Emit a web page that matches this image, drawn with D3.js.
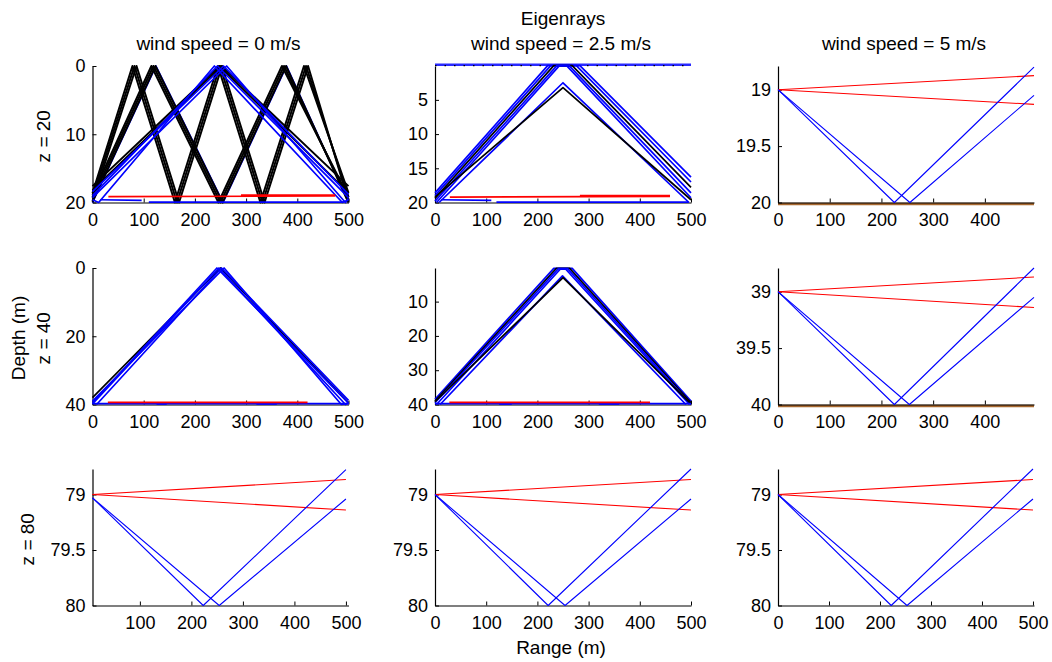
<!DOCTYPE html>
<html><head><meta charset="utf-8">
<script src="https://cdn.jsdelivr.net/npm/d3@7"></script>
<style>
body{margin:0;background:#fff}
svg{display:block}
text{font-family:"Liberation Sans",Arial,Helvetica,sans-serif;fill:#000}
.tick text{font-size:18px}
.lab{font-size:19px}
</style>
</head><body><svg id="c" width="1052" height="662"></svg>
<script>
// ---------------- data ----------------
const superTitle = "Eigenrays";
const colTitles = ["wind speed = 0 m/s", "wind speed = 2.5 m/s", "wind speed = 5 m/s"];
const rowLabels = ["z = 20", "z = 40", "z = 80"];
const yAxisLabel = "Depth (m)";
const xAxisLabel = "Range (m)";

// panel order: row-major (z = 20, 40, 80) x (wind 0, 2.5, 5)
const xDomains = [[0,500],[0,500],[0,495],[0,500],[0,500],[0,495],[8,505],[0,500],[0,502]];
const yDomains = [[0,20],[0.05,20],[18.79,20],[0,40],[0.2,40],[38.79,40],[78.77,80],[78.77,80],[78.77,80]];
const xTickValues = [
  [0,100,200,300,400,500],[0,100,200,300,400,500],[0,100,200,300,400],
  [0,100,200,300,400,500],[0,100,200,300,400,500],[0,100,200,300,400],
  [100,200,300,400,500],[0,100,200,300,400,500],[0,100,200,300,400,500]
];
const yTickValues = [[0,10,20],[5,10,15,20],[19,19.5,20],[0,20,40],[10,20,30,40],[39,39.5,40],[79,79.5,80],[79,79.5,80],[79,79.5,80]];

// eigenrays: [range (m), depth (m)] vertices; type: both = surface+bottom, bottom, direct
const rays_z20_w0 = [
  {type:"bottom", pts:[[0,20],[124,0],[255,20],[379,0],[500,20]]},
  {type:"both", pts:[[0,18.6],[78,0],[161,20],[245,0],[328,20],[413,0],[500,18.6]]},
  {type:"both", pts:[[0,19.2],[82,0],[165,20],[249,0],[332,20],[417,0],[500,19.2]]},
  {type:"both", pts:[[0,19.8],[86,0],[169,20],[253,0],[336,20],[421,0],[500,19.8]]},
  {type:"both", pts:[[0,18.9],[115,0],[246,20],[370,0],[500,19.2]]},
  {type:"both", pts:[[0,19.4],[119,0],[250,20],[374,0],[500,19.6]]},
  {type:"both", pts:[[0,19.9],[123,0],[254,20],[378,0],[500,20]]},
  {type:"both", pts:[[0,17.6],[248,0],[500,18.6]]},
  {type:"both", pts:[[0,18.2],[252,0],[500,17.6]]},
  {type:"bottom", pts:[[0,19.6],[12,20],[238,0],[488,20],[500,19.6]]},
  {type:"bottom", pts:[[0,19.0],[244,0],[500,19.3]]},
  {type:"bottom", pts:[[0,18.4],[256,0],[500,18.8]]},
  {type:"bottom", pts:[[0,19.3],[262,0],[494,20],[500,19.4]]},
  {type:"bottom", pts:[[15,19.6],[96,19.7]]},
  {type:"bottom", pts:[[110,19.95],[490,19.95]]},
  {type:"direct", pts:[[31,19.15],[474,19.05]]},
  {type:"direct", pts:[[290,18.92],[474,18.92]]}
];
const rays_z20_w2p5 = [
  {type:"bottom", pts:[[0,18.6],[220,0],[283,0],[500,16.3]]},
  {type:"bottom", pts:[[0,19.0],[226,0],[276,0],[500,17.0]]},
  {type:"both",   pts:[[0,19.4],[232,0],[268,0],[500,17.8]]},
  {type:"bottom", pts:[[0,19.8],[238,0],[262,0],[500,18.6]]},
  {type:"bottom", pts:[[3,20],[243,0],[257,0],[500,19.3]]},
  {type:"bottom", pts:[[8,20],[250,2.5],[496,20]]},
  {type:"both",   pts:[[0,19.2],[250,3.2],[500,19.6]]},
  {type:"bottom", pts:[[12,19.6],[110,19.7]]},
  {type:"bottom", pts:[[120,19.95],[495,19.95]]},
  {type:"direct", pts:[[29,19.2],[459,19.1]]},
  {type:"direct", pts:[[283,19.0],[459,19.0]]}
];
const surfaceTrack_z20_w2p5 = [[0,0],[500,0]];
const rays_z20_w5 = [
  {type:"direct", pts:[[0,19],[495,18.875]]},
  {type:"direct", pts:[[0,19],[495,19.13]]},
  {type:"bottom", pts:[[0,19],[225,20],[495,18.80]]},
  {type:"bottom", pts:[[0,19],[255,20],[495,19.05]]}
];
const rays_z40_w0 = [
  {type:"both",   pts:[[0,38],[250,0],[500,39.5]]},
  {type:"bottom", pts:[[0,39.5],[243,0],[500,39.6]]},
  {type:"bottom", pts:[[0,39.8],[247,0],[494,40],[500,39.4]]},
  {type:"bottom", pts:[[8,40],[252,0],[500,38.8]]},
  {type:"bottom", pts:[[0,39],[257,0],[486,40],[500,39.7]]},
  {type:"bottom", pts:[[0,39.75],[500,39.75]]},
  {type:"bottom", pts:[[125,39.85],[145,39.85]]},
  {type:"bottom", pts:[[320,39.85],[360,39.85]]},
  {type:"direct", pts:[[30,39.4],[420,39.4]]}
];
const rays_z40_w2p5 = [
  {type:"bottom", pts:[[0,38.5],[232,0.3],[268,0.3],[500,39]]},
  {type:"both",   pts:[[0,39],[237,0.3],[263,0.3],[500,39.5]]},
  {type:"bottom", pts:[[0,39.5],[241,0.4],[259,0.4],[500,40]]},
  {type:"bottom", pts:[[3,40],[245,0.5],[255,0.5],[497,40]]},
  {type:"bottom", pts:[[10,40],[249,2.5],[490,40]]},
  {type:"both",   pts:[[0,39.2],[250,3],[500,39.8]]},
  {type:"bottom", pts:[[0,39.75],[500,39.75]]},
  {type:"bottom", pts:[[125,39.85],[150,39.85]]},
  {type:"bottom", pts:[[320,39.85],[360,39.85]]},
  {type:"direct", pts:[[28,39.4],[420,39.4]]}
];
const rays_z40_w5 = [
  {type:"direct", pts:[[0,39],[495,38.87]]},
  {type:"direct", pts:[[0,39],[495,39.14]]},
  {type:"bottom", pts:[[0,39],[225,40],[495,38.79]]},
  {type:"bottom", pts:[[0,39],[254,40],[495,39.05]]}
];
const rays_z80_w0 = [
  {type:"direct", pts:[[8,79.0],[500,78.865]]},
  {type:"direct", pts:[[8,79.0],[500,79.14]]},
  {type:"bottom", pts:[[8,79.03],[223,80],[500,78.775]]},
  {type:"bottom", pts:[[8,79.03],[254,80],[500,79.04]]}
];
const rays_z80_w2p5 = [
  {type:"direct", pts:[[0,79.0],[500,78.865]]},
  {type:"direct", pts:[[0,79.0],[500,79.14]]},
  {type:"bottom", pts:[[0,79.0],[221,80],[500,78.77]]},
  {type:"bottom", pts:[[0,79.0],[254,80],[500,79.04]]}
];
const rays_z80_w5 = [
  {type:"direct", pts:[[0,79.0],[500,78.865]]},
  {type:"direct", pts:[[0,79.0],[500,79.14]]},
  {type:"bottom", pts:[[0,79.0],[222,80],[500,78.77]]},
  {type:"bottom", pts:[[0,79.0],[253,80],[500,79.04]]}
];
const bottomDepths = [null,null,20,null,null,40,null,null,null];

const panelRays = [rays_z20_w0, rays_z20_w2p5, rays_z20_w5,
                   rays_z40_w0, rays_z40_w2p5, rays_z40_w5,
                   rays_z80_w0, rays_z80_w2p5, rays_z80_w5];
const panelSurface = [null, surfaceTrack_z20_w2p5, null, null, null, null, null, null, null];

// ---------------- drawing ----------------
const typeColor = {both:"#000000", bottom:"#0000ff", direct:"#ff0000"};
const svg = d3.select("#c");
const colLeft = [92.5, 435, 778], plotW = 256;
const rowTop = [66, 268, 469], plotH = 136.5;

panelRays.forEach((rays, i) => {
  const r = Math.floor(i / 3), c = i % 3;
  const x = d3.scaleLinear().domain(xDomains[i]).range([colLeft[c], colLeft[c] + plotW]);
  const y = d3.scaleLinear().domain(yDomains[i]).range([rowTop[r], rowTop[r] + plotH]);
  const g = svg.append("g");
  const dense = (c < 2 && r < 2);

  if (bottomDepths[i] !== null) {
    g.append("line")
      .attr("x1", x(xDomains[i][0])).attr("x2", x(xDomains[i][1]))
      .attr("y1", y(bottomDepths[i]) + 1.5).attr("y2", y(bottomDepths[i]) + 1.5)
      .attr("stroke", "#a8692f").attr("stroke-width", 2.5);
  }

  const xa = g.append("g").attr("transform", `translate(0,${rowTop[r] + plotH})`)
    .call(d3.axisBottom(x).tickValues(xTickValues[i]).tickSize(-4).tickSizeOuter(0).tickPadding(11).tickFormat(d => String(d)));
  const ya = g.append("g").attr("transform", `translate(${colLeft[c]},0)`)
    .call(d3.axisLeft(y).tickValues(yTickValues[i]).tickSize(-4).tickSizeOuter(0).tickPadding(7).tickFormat(d => String(d)));
  [xa, ya].forEach(a => {
    a.attr("font-size", null).attr("font-family", null);
    a.select(".domain").attr("stroke", "#000").attr("stroke-width", 1.2);
    a.selectAll(".tick line").attr("stroke", "#000");
  });

  const line = d3.line().x(d => x(d[0])).y(d => y(d[1]));
  if (panelSurface[i]) {
    g.append("path").attr("d", line(panelSurface[i])).attr("fill", "none")
      .attr("stroke", "#2a2aff").attr("stroke-width", 2.5).attr("transform", "translate(0,-1)");
    g.append("path").attr("d", line(panelSurface[i])).attr("fill", "none")
      .attr("stroke", "#000").attr("stroke-width", 1.2).attr("stroke-dasharray", "1.5,8");
  }
  rays.forEach(ray => {
    g.append("path").attr("d", line(ray.pts)).attr("fill", "none")
      .attr("stroke", typeColor[ray.type])
      .attr("stroke-width", dense ? (ray.type === "both" && i === 0 ? 2 : 1.7) : 1.1)
      .attr("stroke-linejoin", "round");
  });
});

// titles & labels
svg.append("text").attr("class","lab").attr("x", 563).attr("y", 25).attr("text-anchor","middle").text(superTitle);
colTitles.forEach((t, c) => {
  svg.append("text").attr("class","lab").attr("x", colLeft[c] + plotW / 2 - 2).attr("y", 50)
    .attr("text-anchor","middle").text(t);
});
const rowLabelX = [50, 50, 34];
rowLabels.forEach((t, r) => {
  const cy = rowTop[r] + plotH / 2 + 2;
  svg.append("text").attr("class","lab")
    .attr("transform", `translate(${rowLabelX[r]},${cy}) rotate(-90)`)
    .attr("text-anchor","middle").text(t);
});
svg.append("text").attr("class","lab")
  .attr("transform", `translate(25,338) rotate(-90)`)
  .attr("text-anchor","middle").text(yAxisLabel);
svg.append("text").attr("class","lab").attr("x", 561).attr("y", 654)
  .attr("text-anchor","middle").text(xAxisLabel);
</script>
</body></html>
